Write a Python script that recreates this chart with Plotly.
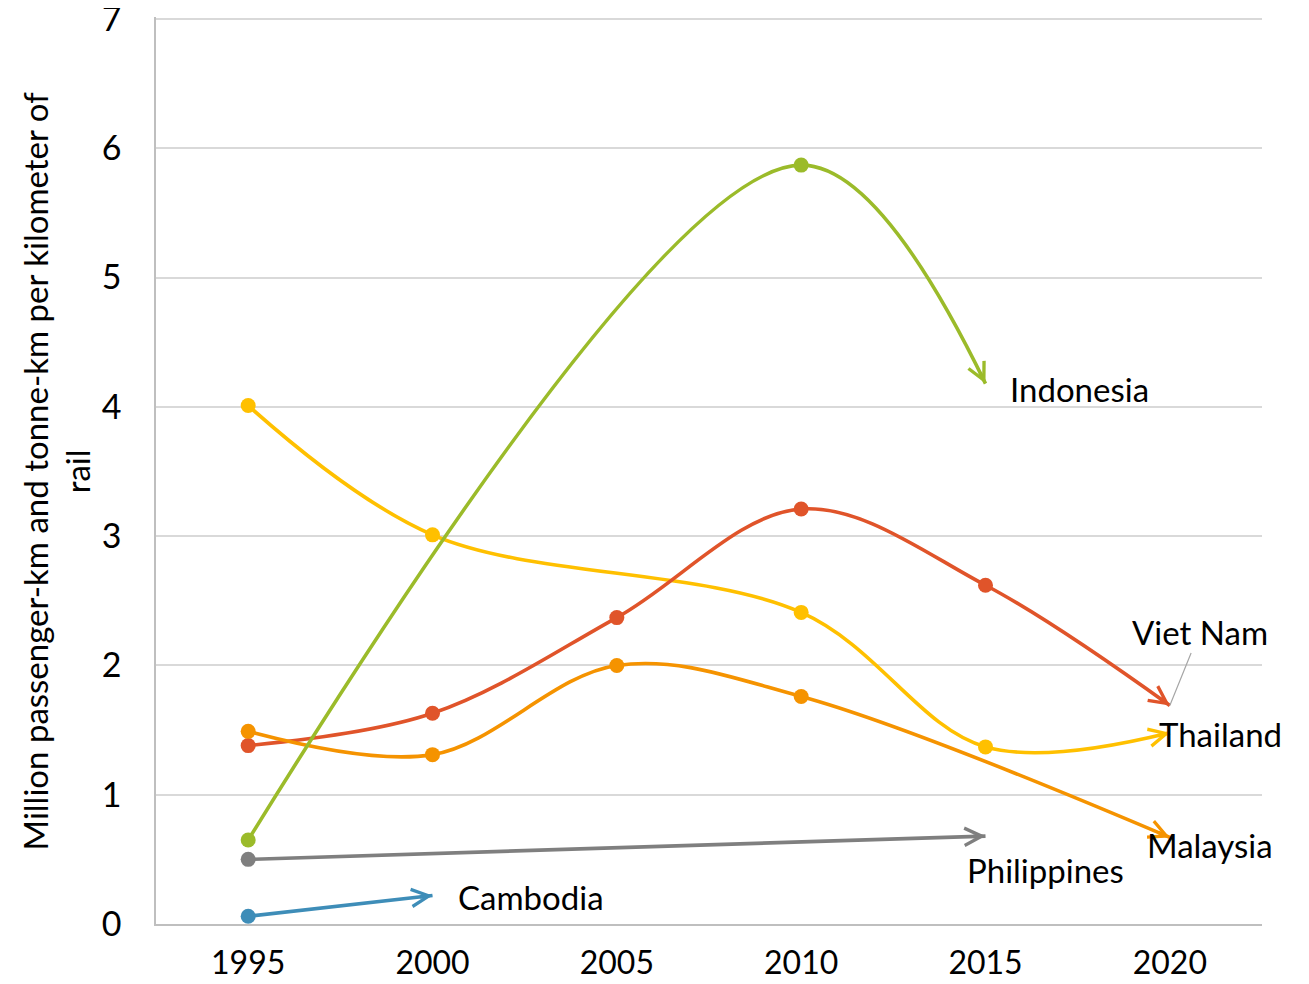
import math
import plotly.graph_objects as go

# ---------------- data ----------------
thailand_years = [1995, 2000, 2010, 2015, 2020]
thailand_values = [4.01, 3.01, 2.41, 1.37, 1.48]

vietnam_years = [1995, 2000, 2005, 2010, 2015, 2020]
vietnam_values = [1.38, 1.63, 2.37, 3.21, 2.62, 1.69]

malaysia_years = [1995, 2000, 2005, 2010, 2020]
malaysia_values = [1.49, 1.31, 2.00, 1.76, 0.67]

indonesia_years = [1995, 2010, 2015]
indonesia_values = [0.65, 5.87, 4.18]

philippines_years = [1995, 2015]
philippines_values = [0.50, 0.68]

cambodia_years = [1995, 2000]
cambodia_values = [0.06, 0.22]

tick_years = [1995, 2000, 2005, 2010, 2015, 2020]
y_ticks = [0, 1, 2, 3, 4, 5, 6, 7]

y_title = "Million passenger-km and tonne-km per kilometer of<br>rail"

# ---------------- layout geometry ----------------
# page body has an 8px margin; figure sized to fill the visible window
W, H = 1301, 976
ML, MR, MT, MB = 148, 47, 9, 60
X_RANGE = [1992.5, 2022.5]
Y_RANGE = [0, 7.0155]
PW, PH = W - ML - MR, H - MT - MB

FONT = "Lato"
SMOOTH = 1.0


def to_px(x, y):
    px = ML + (x - X_RANGE[0]) / (X_RANGE[1] - X_RANGE[0]) * PW
    py = MT + (Y_RANGE[1] - y) / (Y_RANGE[1] - Y_RANGE[0]) * PH
    return px, py


def end_direction(xs, ys, smooth):
    """Direction of the final segment as drawn by plotly's spline (pixel space)."""
    pts = [to_px(x, y) for x, y in zip(xs, ys)]
    if len(pts) < 3:
        a, b = pts[-2], pts[-1]
    else:
        p0, p1, p2 = pts[-3], pts[-2], pts[-1]
        d1x, d1y = p0[0] - p1[0], p0[1] - p1[1]
        d2x, d2y = p2[0] - p1[0], p2[1] - p1[1]
        d1a = (d1x * d1x + d1y * d1y) ** 0.25
        d2a = (d2x * d2x + d2y * d2y) ** 0.25
        numx = (d2a * d2a * d1x - d1a * d1a * d2x) * smooth
        numy = (d2a * d2a * d1y - d1a * d1a * d2y) * smooth
        denom2 = 3 * d1a * (d1a + d2a)
        a = (p1[0] - numx / denom2, p1[1] - numy / denom2)
        b = p2
    dx, dy = b[0] - a[0], b[1] - a[1]
    n = math.hypot(dx, dy)
    return dx / n, dy / n


series = [
    ("Thailand", thailand_years, thailand_values, "#FFC000"),
    ("Viet Nam", vietnam_years, vietnam_values, "#E0542A"),
    ("Malaysia", malaysia_years, malaysia_values, "#F59300"),
    ("Indonesia", indonesia_years, indonesia_values, "#9BBB2A"),
    ("Philippines", philippines_years, philippines_values, "#7F7F7F"),
    ("Cambodia", cambodia_years, cambodia_values, "#3E8DB8"),
]

fig = go.Figure()
annotations = []

for name, xs, ys, color in series:
    fig.add_trace(go.Scatter(
        x=xs, y=ys, mode="lines", name=name,
        line=dict(color=color, width=3.6, shape="spline", smoothing=SMOOTH),
        showlegend=False, hoverinfo="skip",
    ))
    fig.add_trace(go.Scatter(
        x=xs[:-1], y=ys[:-1], mode="markers", name=name,
        marker=dict(size=15, color=color, opacity=1, line=dict(width=0)),
        showlegend=False, hoverinfo="x+y+name",
    ))
    ux, uy = end_direction(xs, ys, SMOOTH)
    L = 14
    annotations.append(dict(
        x=xs[-1], y=ys[-1], xref="x", yref="y", text="",
        showarrow=True, arrowhead=5, arrowsize=1.0, arrowwidth=3.4,
        arrowcolor=color, ax=-ux * L, ay=-uy * L, standoff=0,
    ))

label_font = dict(family=FONT, size=33, color="#000000")

# country labels, anchored at their arrow tips
annotations += [
    dict(x=indonesia_years[-1], y=indonesia_values[-1], text="Indonesia", showarrow=False,
         xanchor="left", yanchor="middle", xshift=22, yshift=-5, font=label_font),
    dict(x=thailand_years[-1], y=thailand_values[-1], text="Thailand", showarrow=False,
         xanchor="left", yanchor="middle", xshift=-13, yshift=-1, font=label_font),
    dict(x=malaysia_years[-1], y=malaysia_values[-1], text="Malaysia", showarrow=False,
         xanchor="left", yanchor="middle", xshift=-25, yshift=-8, font=label_font),
    dict(x=philippines_years[-1], y=philippines_values[-1], text="Philippines", showarrow=False,
         xanchor="left", yanchor="middle", xshift=-21, yshift=-34, font=label_font),
    dict(x=cambodia_years[-1], y=cambodia_values[-1], text="Cambodia", showarrow=False,
         xanchor="left", yanchor="middle", xshift=23, yshift=-1, font=label_font),
    dict(x=vietnam_years[-1], y=vietnam_values[-1], text="Viet Nam", showarrow=True,
         arrowhead=0, arrowwidth=1.2, arrowcolor="#A6A6A6", ax=30, ay=-74,
         standoff=0, font=label_font),
    dict(x=-(ML - 48) / PW, y=(924 - 8 - 905 / 2 - MT) / PH * -1 + 1, xref="paper", yref="paper",
         text=y_title, showarrow=False,
         textangle=-90, xanchor="center", yanchor="middle", align="center",
         font=dict(family=FONT, size=33, color="#000000")),
]

fig.update_layout(
    width=W, height=H, autosize=False,
    margin=dict(l=ML, r=MR, t=MT, b=MB, pad=0),
    paper_bgcolor="white", plot_bgcolor="white",
    font=dict(family=FONT, size=33, color="#000000"),
    annotations=annotations,
    xaxis=dict(
        range=X_RANGE, tickmode="array", tickvals=tick_years,
        ticktext=[str(t) for t in tick_years],
        showgrid=False, zeroline=False, automargin=False,
        showline=True, linecolor="#BFBFBF", linewidth=1.5,
        ticks="outside", ticklen=10, tickcolor="rgba(0,0,0,0)",
        ticklabeloverflow="allow",
        tickfont=dict(family=FONT, size=32, color="#000000"),
    ),
    yaxis=dict(
        range=Y_RANGE, tickmode="array", tickvals=y_ticks,
        showgrid=True, gridcolor="#D9D9D9", gridwidth=2,
        zeroline=False, showline=True, linecolor="#BFBFBF", linewidth=1.5,
        automargin=False, ticklabeloverflow="allow",
        ticks="outside", ticklen=26, tickcolor="rgba(0,0,0,0)",
        tickfont=dict(family=FONT, size=34, color="#000000"),
    ),
)

fig.write_html("out.html")
